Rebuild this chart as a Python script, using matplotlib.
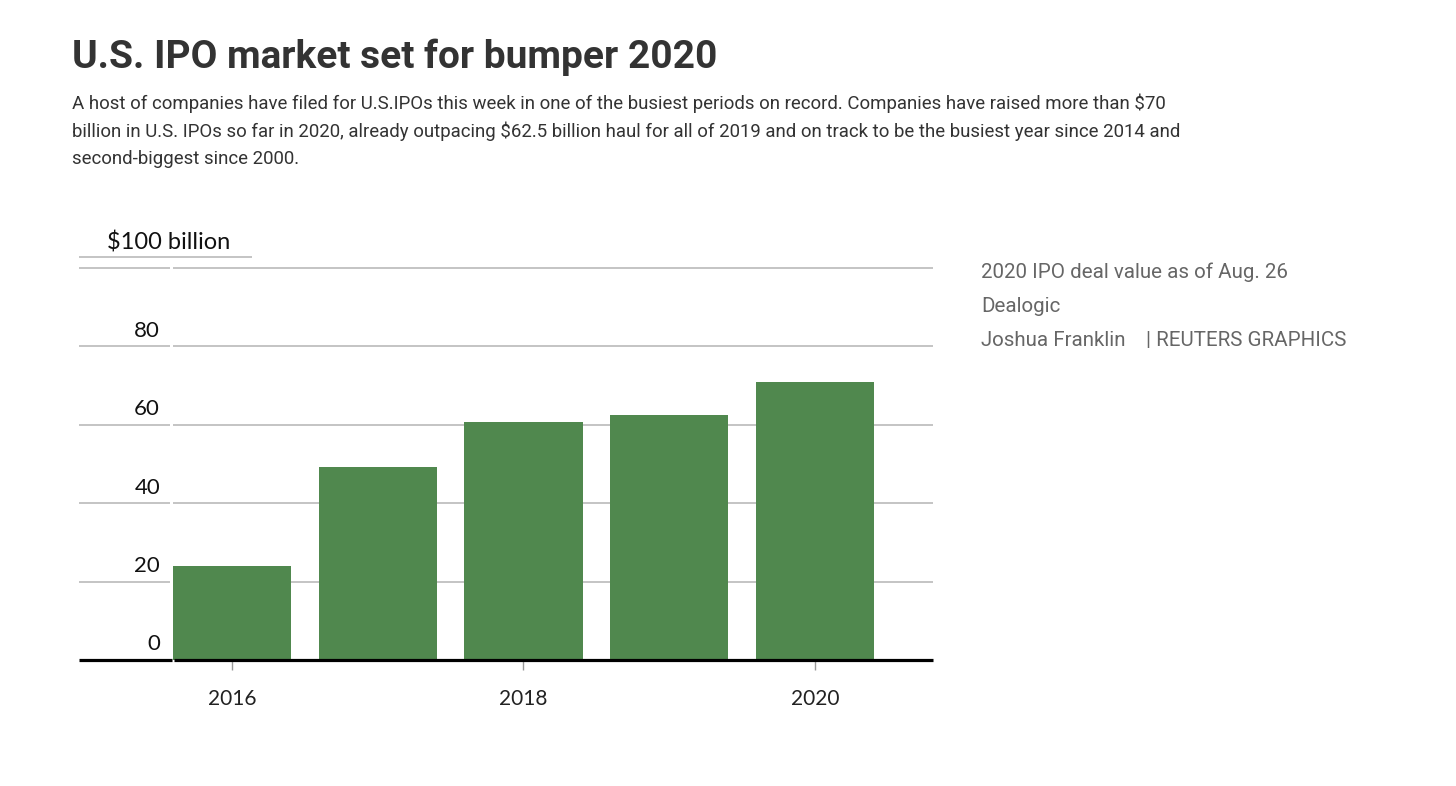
import matplotlib
matplotlib.use("Agg")
import matplotlib.pyplot as plt

years = [2016, 2017, 2018, 2019, 2020]
values = [24.0, 49.2, 60.7, 62.5, 70.9]
yticks = [0, 20, 40, 60, 80, 100]
ytick_labels = ["0", "20", "40", "60", "80", "$100 billion"]
xticks = [2016, 2018, 2020]
xtick_labels = ["2016", "2018", "2020"]

title = "U.S. IPO market set for bumper 2020"
subtitle = ["A host of companies have filed for U.S.IPOs this week in one of the busiest periods on record. Companies have raised more than $70",
            "billion in U.S. IPOs so far in 2020, already outpacing $62.5 billion haul for all of 2019 and on track to be the busiest year since 2014 and",
            "second-biggest since 2000."]
notes = ["2020 IPO deal value as of Aug. 26", "Dealogic", "Joshua Franklin    | REUTERS GRAPHICS"]

W, H = 1456, 786
fig = plt.figure(figsize=(W/100, H/100), dpi=100)
fig.patch.set_facecolor("white")

def fx(px): return px / W
def fy(py): return 1 - py / H

ax = fig.add_axes([fx(79), fy(660), fx(933) - fx(79), fy(268) - fy(660)])
xmin, xmax = 2014.95, 2020.81
ax.set_xlim(xmin, xmax)
ax.set_ylim(0, 100)
barw = 0.81
bar_color = "#50884e"
ax.bar(years, values, width=barw, color=bar_color, zorder=3)

gap_x = years[0] - barw/2
for t in yticks[1:]:
    ax.plot([xmin, gap_x - 0.02], [t, t], color="#b4b4b4", lw=1.1, zorder=1, clip_on=False, solid_capstyle="butt")
    ax.plot([gap_x, xmax], [t, t], color="#b4b4b4", lw=1.1, zorder=1, clip_on=False, solid_capstyle="butt")
# underline under the unit label
ax.plot([xmin, xmin + (252-79)/145.6], [102.8, 102.8], color="#b4b4b4", lw=1.1, clip_on=False, solid_capstyle="butt")

ax.plot([xmin, gap_x - 0.005], [0, 0], color="black", lw=2.3, zorder=4, clip_on=False, solid_capstyle="butt")
ax.plot([gap_x + 0.005, xmax], [0, 0], color="black", lw=2.3, zorder=4, clip_on=False, solid_capstyle="butt")

for s in ax.spines.values():
    s.set_visible(False)
ax.set_yticks([])
ax.set_xticks(xticks)
ax.set_xticklabels(xtick_labels, fontsize=15, color="#222222", family="Lato")
ax.tick_params(axis="x", length=7, width=1, color="#999999", pad=14)

for t, lab in zip(yticks, ytick_labels):
    if t == 100:
        ax.text(xmin + (107-79)/145.6, 106.4, lab, ha="left", va="center", fontsize=17, color="#111111", family="Lato", clip_on=False)
    else:
        ax.text(xmin + (160-79)/145.6, t + 4.0, lab, ha="right", va="center", fontsize=16, color="#111111", family="Lato")

fig.text(fx(72), fy(57), title, fontsize=28, fontweight="bold", color="#333333", family="Roboto", va="center", ha="left")
for i, line in enumerate(subtitle):
    fig.text(fx(72), fy(103 + 28*i), line, fontsize=13.4, color="#333333", family="Roboto", va="center", ha="left")

for i, line in enumerate(notes):
    fig.text(fx(981), fy(272 + 34.5*i), line, fontsize=14.8, color="#666666", family="Roboto", va="center", ha="left")

fig.savefig("out.png", dpi=100)
